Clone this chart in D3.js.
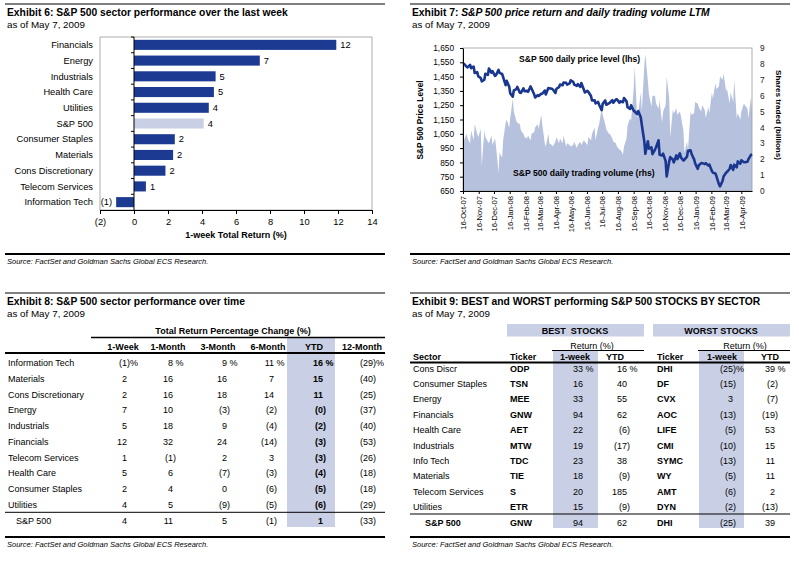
<!DOCTYPE html>
<html>
<head>
<meta charset="utf-8">
<script src="https://cdn.jsdelivr.net/npm/d3@7"></script>
<style>
  body { margin: 0; background: #fff; }
  svg { display: block; font-family: "Liberation Sans", Arial, Helvetica, sans-serif; }
</style>
</head>
<body>
<svg id="page" width="799" height="566"></svg>
<script>
// Exhibit 6
const sectors6 = ["Financials", "Energy", "Industrials", "Health Care", "Utilities", "S&P 500",
  "Consumer Staples", "Materials", "Cons Discretionary", "Telecom Services", "Information Tech"];
const weekReturn6 = [11.9, 7.4, 4.8, 4.7, 4.4, 4.1, 2.4, 2.3, 1.85, 0.7, -1.05];
const xTicks6 = [-2, 0, 2, 4, 6, 8, 10, 12, 14];

// Exhibit 7 (two readings a week: Tuesday and Thursday)
const dateTicks7 = ["16-Oct-07", "16-Nov-07", "16-Dec-07", "16-Jan-08", "16-Feb-08", "16-Mar-08",
  "16-Apr-08", "16-May-08", "16-Jun-08", "16-Jul-08", "16-Aug-08", "16-Sep-08", "16-Oct-08",
  "16-Nov-08", "16-Dec-08", "16-Jan-09", "16-Feb-09", "16-Mar-09", "16-Apr-09"];
const priceTicks7 = [650, 750, 850, 950, 1050, 1150, 1250, 1350, 1450, 1550, 1650];
const volumeTicks7 = [0, 1, 2, 3, 4, 5, 6, 7, 8, 9];
const price7 = [
  1538, 1540, 1519, 1514, 1532, 1509, 1520, 1475, 1481, 1452, 1439, 1417, 1428, 1470, 1462, 1507,
  1477, 1488, 1455, 1460, 1497, 1476,
  1468, 1447, 1390, 1420, 1380, 1333, 1310, 1353, 1362, 1378, 1337, 1336, 1368, 1348, 1350, 1343,
  1381, 1367, 1327, 1304,
  1320, 1315, 1330, 1330, 1352, 1325, 1370, 1369, 1365, 1360, 1335, 1365, 1376, 1395, 1390, 1409,
  1407, 1394, 1403, 1424,
  1413, 1394, 1385, 1398, 1378, 1405, 1358, 1339, 1350, 1342, 1314, 1283, 1285, 1262, 1273, 1253,
  1215, 1260, 1283, 1253,
  1263, 1267, 1285, 1267, 1290, 1292, 1267, 1277, 1271, 1300, 1277, 1236, 1224, 1249, 1213, 1206,
  1188, 1209, 1166, 1114,
  996, 910, 998, 946, 955, 908, 940, 954, 1005, 904, 898, 911, 859, 752, 857, 887, 870, 850, 899, 873,
  913, 885, 863, 869, 890, 931, 934, 909, 871, 844, 805, 828, 845, 845, 838, 845, 827, 835, 790, 778,
  773, 753, 696, 682, 720, 751, 778, 784, 806, 832, 798, 834, 815, 857, 841, 865, 851, 851, 855, 873,
  903, 907
];
const volume7 = [
  3.0, 3.2, 3.6, 3.3, 3.0, 3.8, 3.2, 4.2, 3.6, 3.4, 3.9, 1.6, 3.8, 3.4, 3.1, 3.0, 3.5, 2.9, 3.3, 2.8,
  1.2, 2.4,
  2.1, 3.2, 4.3, 4.5, 4.0, 4.6, 5.8, 5.0, 4.4, 4.3, 4.2, 3.8, 3.6, 3.4, 3.3, 3.5, 3.2, 3.6, 3.7, 4.0,
  4.2, 3.9, 4.8, 4.2, 3.0, 2.8, 3.6, 3.0, 2.9, 2.8, 3.1, 3.4, 3.0, 3.3, 3.0, 3.5, 2.8, 3.0, 2.9, 2.8,
  2.9, 3.1, 2.7, 2.9, 3.1, 2.9, 3.2, 3.1, 2.9, 3.4, 3.2, 3.6, 4.0, 3.2, 4.0, 4.2, 5.2, 4.8, 4.2, 3.9,
  3.6, 3.6, 3.3, 3.1, 3.0, 2.8, 2.6, 2.6, 2.3, 2.8, 3.3, 4.1, 4.6, 4.4, 6.4, 7.8, 4.6, 4.9, 6.2, 5.0,
  7.9, 8.6, 6.9, 6.1, 5.3, 6.0, 6.0, 5.5, 5.2, 5.7, 4.3, 5.0, 5.4, 7.2, 5.8, 3.4, 5.1, 4.9, 5.2, 4.8,
  5.0, 4.7, 3.8, 2.4, 3.1, 2.6, 5.0, 4.8, 4.9, 5.6, 5.5, 5.3, 5.0, 5.4, 5.1, 4.6, 5.3, 4.9, 6.2, 5.8,
  6.8, 6.4, 6.6, 7.2, 7.0, 7.4, 6.3, 6.4, 5.5, 6.2, 5.6, 7.0, 4.6, 4.9, 4.5, 5.0, 5.5, 5.4, 5.2, 4.6,
  5.9, 5.0
];

// Exhibit 8
const sectors8 = ["Information Tech", "Materials", "Cons Discretionary", "Energy", "Industrials",
  "Financials", "Telecom Services", "Health Care", "Consumer Staples", "Utilities", "S&P 500"];
const periods8 = ["1-Week", "1-Month", "3-Month", "6-Month", "YTD", "12-Month"];
const week8 = [-1, 2, 2, 7, 5, 12, 1, 5, 2, 4, 4];
const month8 = [8, 16, 16, 10, 18, 32, -1, 6, 4, 5, 11];
const threeMonth8 = [9, 16, 18, -3, 9, 24, 2, -7, 0, -9, 5];
const sixMonth8 = [11, 7, 14, -2, -4, -14, 3, -3, -6, -5, -1];
const ytd8 = [16, 15, 11, -0.3, -2, -3, -3, -4, -5, -6, 1];
const twelveMonth8 = [-29, -40, -25, -37, -40, -53, -26, -18, -18, -29, -33];

// Exhibit 9
const sectors9 = ["Cons Discr", "Consumer Staples", "Energy", "Financials", "Health Care",
  "Industrials", "Info Tech", "Materials", "Telecom Services", "Utilities", "S&P 500"];
const bestTicker9 = ["ODP", "TSN", "MEE", "GNW", "AET", "MTW", "TDC", "TIE", "S", "ETR", "GNW"];
const bestWeek9 = [33, 16, 33, 94, 22, 19, 23, 18, 20, 15, 94];
const bestYtd9 = [16, 40, 55, 62, -6, -17, 38, -9, 185, -9, 62];
const worstTicker9 = ["DHI", "DF", "CVX", "AOC", "LIFE", "CMI", "SYMC", "WY", "AMT", "DYN", "DHI"];
const worstWeek9 = [-25, -15, 3, -13, -5, -10, -13, -5, -6, -2, -25];
const worstYtd9 = [39, -2, -7, -19, 53, 15, 11, 11, 2, -13, 39];

const NAVY = "#1c3a92";
const SHADE = "#c9d0e5";
const LINE = "#1a3790";
const VOLUME_FILL = "#b6c1de";

const svg = d3.select("#page");

function label(g, x, y, s, o = {}) {
  const t = g.append("text").attr("x", x).attr("y", y).text(s)
    .attr("font-size", o.size || 9)
    .attr("fill", "#000");
  if (o.bold) t.attr("font-weight", "bold");
  if (o.italic) t.attr("font-style", "italic");
  if (o.anchor) t.attr("text-anchor", o.anchor);
  return t;
}

function rule(g, x1, x2, y, w) {
  g.append("line")
    .attr("x1", x1).attr("x2", x2).attr("y1", y).attr("y2", y)
    .attr("stroke", "#000").attr("stroke-width", w);
}

function exhibitFrame(g, x1, x2, top, bottom, title) {
  rule(g, x1, x2, top, 1);
  const t = label(g, x1 + 2, top + 12, "", { size: 10.3, bold: true });
  t.append("tspan").text(title[0]);
  t.append("tspan").attr("font-style", title[2] ? "italic" : null).text(title[1]);
  label(g, x1 + 2, top + 24, "as of May 7, 2009", { size: 9.8 });
  rule(g, x1, x2, bottom, 2);
  label(g, x1 + 2, bottom + 10, "Source: FactSet and Goldman Sachs Global ECS Research.",
    { size: 7.5, italic: true });
}

// number with hanging parenthesis / percent sign, digits end at x
function numberCell(g, x, y, v, pct, bold) {
  const neg = v < 0;
  const a = Math.round(Math.abs(v));
  label(g, x, y, neg ? "(" + a : String(a), { anchor: "end", bold });
  const suffix = (neg ? ")" : "") + (pct ? (neg ? "%" : "\u00a0%") : "");
  if (suffix) label(g, x, y, suffix, { bold });
}

// ---------- Exhibit 6 ----------
const g6 = svg.append("g");
exhibitFrame(g6, 5, 385, 4, 254, ["Exhibit 6: ", "S&P 500 sector performance over the last week", false]);

const x6 = d3.scaleLinear().domain([-2, 14]).range([100, 372]);
const y6 = d3.scaleBand().domain(sectors6).range([37, 210]).paddingInner(0.36).paddingOuter(0.18);

g6.append("rect").attr("x", 100).attr("y", 37).attr("width", 272).attr("height", 173)
  .attr("fill", "none").attr("stroke", "#9a9a9a").attr("stroke-width", 0.8);

g6.selectAll("rect.bar").data(sectors6).join("rect")
  .attr("class", "bar")
  .attr("x", (d, i) => x6(Math.min(0, weekReturn6[i])))
  .attr("y", (d) => y6(d))
  .attr("width", (d, i) => Math.abs(x6(weekReturn6[i]) - x6(0)))
  .attr("height", y6.bandwidth())
  .attr("fill", (d) => (d === "S&P 500" ? SHADE : NAVY));

sectors6.forEach((d, i) => {
  const v = weekReturn6[i];
  const cy = y6(d) + y6.bandwidth() / 2 + 3.2;
  label(g6, 93, cy, d, { anchor: "end", size: 9.3 });
  const r = Math.round(Math.abs(v));
  if (v < 0) label(g6, x6(v) - 4, cy, "(" + r + ")", { anchor: "end", size: 9.3 });
  else label(g6, x6(v) + 4, cy, r, { size: 9.3 });
});

// zero line with ticks at category boundaries
g6.append("line").attr("x1", x6(0)).attr("x2", x6(0)).attr("y1", 37).attr("y2", 210)
  .attr("stroke", "#000").attr("stroke-width", 1);
sectors6.forEach((d) => {
  const yb = y6(d) - y6.step() * y6.paddingInner() / 2;
  g6.append("line").attr("x1", x6(0) - 3).attr("x2", x6(0)).attr("y1", yb).attr("y2", yb)
    .attr("stroke", "#000");
});

const ax6 = g6.append("g").attr("transform", "translate(0,210)")
  .call(d3.axisBottom(x6).tickValues(xTicks6).tickSize(4).tickSizeOuter(0)
    .tickFormat((v) => (v < 0 ? "(" + -v + ")" : v)));
ax6.attr("font-family", null).attr("font-size", 9.3);
ax6.selectAll("text").attr("y", 8);
label(g6, 236, 238, "1-week Total Return (%)", { anchor: "middle", bold: true, size: 9 });

// ---------- Exhibit 7 ----------
const g7 = svg.append("g");
exhibitFrame(g7, 410, 790, 4, 254, ["Exhibit 7: ", "S&P 500 price return and daily trading volume LTM", true]);

const parseTick = d3.timeParse("%d-%b-%y");
const x7 = d3.scaleTime().domain([new Date(2007, 9, 16), new Date(2009, 4, 7)]).range([463, 752]);
const yP = d3.scaleLinear().domain([650, 1650]).range([191, 48]);
const yV = d3.scaleLinear().domain([0, 9]).range([191, 48]);

const tuesdays = d3.timeTuesday.range(new Date(2007, 9, 16), new Date(2009, 4, 6));
const days7 = tuesdays.flatMap((d) => [d, d3.timeDay.offset(d, 2)]);

g7.append("clipPath").attr("id", "clip7").append("rect")
  .attr("x", 463).attr("y", 48).attr("width", 289).attr("height", 143);

g7.append("path")
  .datum(days7)
  .attr("clip-path", "url(#clip7)")
  .attr("fill", VOLUME_FILL)
  .attr("d", d3.area().x((d) => x7(d)).y0(yV(0)).y1((d, i) => yV(volume7[i])));

g7.append("rect").attr("x", 463).attr("y", 48).attr("width", 289).attr("height", 143)
  .attr("fill", "none").attr("stroke", "#9a9a9a").attr("stroke-width", 0.8);

g7.append("path")
  .datum(days7)
  .attr("fill", "none")
  .attr("stroke", LINE)
  .attr("stroke-width", 2.6)
  .attr("stroke-linejoin", "round")
  .attr("d", d3.line().x((d) => x7(d)).y((d, i) => yP(price7[i])));

label(g7, 519, 62, "S&P 500 daily price level (lhs)", { bold: true, size: 8.6 });
label(g7, 513, 176, "S&P 500 daily trading volume (rhs)", { bold: true, size: 8.6 });

const axL = g7.append("g").attr("transform", "translate(463,0)")
  .call(d3.axisLeft(yP).tickValues(priceTicks7).tickFormat(d3.format(",")).tickSize(3).tickSizeOuter(0));
axL.attr("font-family", null).attr("font-size", 8.3);
axL.selectAll("text").attr("x", -9);

const axR = g7.append("g").attr("transform", "translate(752,0)")
  .call(d3.axisRight(yV).tickValues(volumeTicks7).tickSize(0).tickSizeOuter(0));
axR.attr("font-family", null).attr("font-size", 8.3);
axR.select(".domain").remove();
axR.selectAll("text").attr("x", 8).attr("fill", "#222");

const axB = g7.append("g").attr("transform", "translate(0,191)")
  .call(d3.axisBottom(x7).tickValues(dateTicks7.map(parseTick))
    .tickFormat(d3.timeFormat("%d-%b-%y")).tickSize(3).tickSizeOuter(0));
axB.attr("font-family", null).attr("font-size", 7.6);
axB.selectAll("text")
  .attr("transform", "rotate(-90)")
  .attr("text-anchor", "end")
  .attr("x", -5).attr("y", 0).attr("dy", "0.35em");

label(g7, 0, 0, "S&P 500 Price Level", { bold: true, size: 8.3, anchor: "middle" })
  .attr("transform", "translate(423,120) rotate(-90)");
label(g7, 0, 0, "Shares traded (billions)", { bold: true, size: 8.1, anchor: "middle" })
  .attr("transform", "translate(776,115) rotate(90)");

// ---------- Exhibit 8 ----------
const g8 = svg.append("g");
exhibitFrame(g8, 5, 385, 293, 537, ["Exhibit 8: ", "S&P 500 sector performance over time", false]);

const cols8 = [week8, month8, threeMonth8, sixMonth8, ytd8, twelveMonth8];
const digitX8 = [127, 173, 227, 274, 323, 373];
const headX8 = [123, 168, 218, 268, 314, 362];
const rowY8 = (i) => 366 + i * 15.75;

g8.append("rect").attr("x", 287).attr("y", 338).attr("width", 48).attr("height", 189).attr("fill", SHADE);
label(g8, 233, 334, "Total Return Percentage Change (%)", { anchor: "middle", bold: true, size: 9 });
rule(g8, 91, 385, 337.5, 1.5);
periods8.forEach((p, j) => label(g8, headX8[j], 350, p, { anchor: "middle", bold: true, size: 9 }));
rule(g8, 5, 385, 353, 2);

sectors8.forEach((s, i) => {
  const y = rowY8(i);
  label(g8, s === "S&P 500" ? 16 : 8, y, s);
  cols8.forEach((col, j) => numberCell(g8, digitX8[j], y, col[i], i === 0, j === 4));
});
rule(g8, 5, 385, 512.3, 1);

// ---------- Exhibit 9 ----------
const g9 = svg.append("g");
exhibitFrame(g9, 410, 790, 293, 537, ["Exhibit 9: ", "BEST and WORST performing S&P 500 STOCKS BY SECTOR", false]);

const rowY9 = (i) => 371.5 + i * 15.4;

g9.append("rect").attr("x", 507).attr("y", 324).attr("width", 137).attr("height", 12.5).attr("fill", SHADE);
g9.append("rect").attr("x", 653).attr("y", 324).attr("width", 137).attr("height", 12.5).attr("fill", SHADE);
g9.append("rect").attr("x", 553).attr("y", 351).attr("width", 45).attr("height", 177).attr("fill", SHADE);
g9.append("rect").attr("x", 699).attr("y", 351).attr("width", 45).attr("height", 177).attr("fill", SHADE);

label(g9, 575, 333.5, "BEST\u00a0 STOCKS", { anchor: "middle", bold: true, size: 9 });
label(g9, 721, 333.5, "WORST STOCKS", { anchor: "middle", bold: true, size: 9 });
label(g9, 592, 348.5, "Return (%)", { anchor: "middle", size: 9 });
label(g9, 745, 348.5, "Return (%)", { anchor: "middle", size: 9 });
rule(g9, 552, 644, 350.5, 1);
rule(g9, 698, 790, 350.5, 1);

label(g9, 413, 360, "Sector", { bold: true });
label(g9, 510, 360, "Ticker", { bold: true });
label(g9, 575, 360, "1-week", { bold: true, anchor: "middle" });
label(g9, 615, 360, "YTD", { bold: true, anchor: "middle" });
label(g9, 657, 360, "Ticker", { bold: true });
label(g9, 722, 360, "1-week", { bold: true, anchor: "middle" });
label(g9, 770, 360, "YTD", { bold: true, anchor: "middle" });
rule(g9, 410, 790, 362.5, 2);

sectors9.forEach((s, i) => {
  const y = rowY9(i);
  const total = s === "S&P 500";
  label(g9, total ? 425 : 413, y, s, { bold: total });
  label(g9, 510, y, bestTicker9[i], { bold: true });
  numberCell(g9, 583, y, bestWeek9[i], i === 0, false);
  numberCell(g9, 627, y, bestYtd9[i], i === 0, false);
  label(g9, 657, y, worstTicker9[i], { bold: true });
  numberCell(g9, 733, y, worstWeek9[i], i === 0, false);
  numberCell(g9, 775, y, worstYtd9[i], i === 0, false);
});
rule(g9, 410, 790, 514, 1);
</script>
</body>
</html>
